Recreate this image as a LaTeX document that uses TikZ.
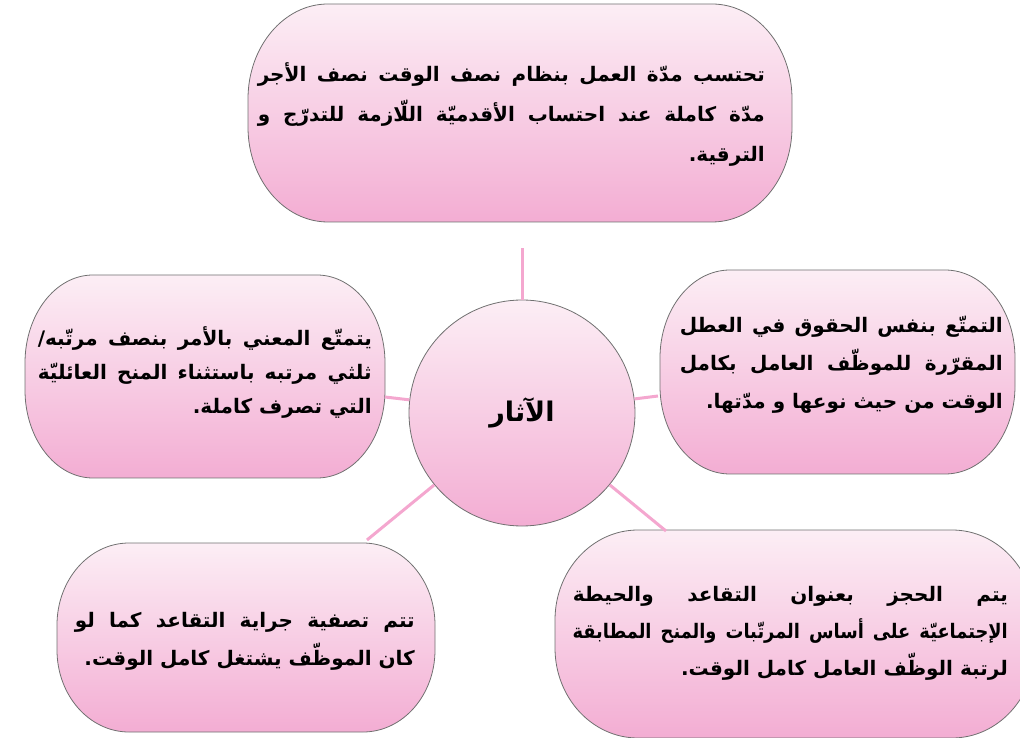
\documentclass[tikz,border=0pt]{standalone}
\usepackage{fontspec}
\usepackage{graphicx}
\usepackage{tikz}
\newfontfamily\arabicfont[Script=Arabic]{DejaVu Sans}
\TeXXeTstate=1

\definecolor{pinktop}{HTML}{FCEEF5}
\definecolor{pinkbottom}{HTML}{F3ADD3}
\definecolor{spokepink}{HTML}{F4A7CF}
\definecolor{rimgray}{HTML}{707070}

\tikzset{
  bubble/.style={draw=rimgray, line width=0.8pt, top color=pinktop, bottom color=pinkbottom},
  spoke/.style={draw=spokepink, line width=3pt},
  arabtxt/.style={font=\arabicfont\bfseries\fontsize{20}{37}\selectfont, align=right, inner sep=0pt, anchor=east},
}

% justified line
\newcommand\jline[2]{\hbox to #1{\spaceskip=0.3em plus 1fill\relax #2}}

% rounded box: x1 y1 x2 y2 rx ry
\newcommand\bubblebox[6]{%
  \draw[bubble] (#1+#5,#4) -- (#3-#5,#4)
    arc[start angle=90, end angle=0, x radius=#5pt, y radius=#6pt]
    -- (#3,#2+#6)
    arc[start angle=0, end angle=-90, x radius=#5pt, y radius=#6pt]
    -- (#1+#5,#2)
    arc[start angle=270, end angle=180, x radius=#5pt, y radius=#6pt]
    -- (#1,#4-#6)
    arc[start angle=180, end angle=90, x radius=#5pt, y radius=#6pt]
    -- cycle;}

\begin{document}
\begin{tikzpicture}[x=1pt, y=1pt]
    \useasboundingbox (0,0) rectangle (1020,737);

    % Boxes
    \bubblebox{248}{515}{792}{733}{80}{95}
    \bubblebox{25}{259}{385}{462}{68}{88}
    \bubblebox{660}{263}{1015}{467}{70}{88}
    \bubblebox{57}{5}{435}{194}{72}{82}
    \bubblebox{555}{-1}{1035}{207}{83}{90}

    % Centre
    \node[bubble, circle, minimum size=226pt, inner sep=0pt,
          font=\arabicfont\bfseries\fontsize{27}{30}\selectfont] (aathar) at (522,324) {\beginR الآثار\endR};

    % Spokes
    \coordinate (topend) at (522,489);
    \coordinate (leftend) at (385,340);
    \coordinate (rightend) at (658,341);
    \coordinate (lowleftend) at (367,197);
    \coordinate (lowrightend) at (666,206);
    \draw[spoke] (aathar) -- (topend);
    \draw[spoke] (aathar) -- (leftend);
    \draw[spoke] (aathar) -- (rightend);
    \draw[spoke] (aathar) -- (lowleftend);
    \draw[spoke] (aathar) -- (lowrightend);

    % Texts
    \node[arabtxt, font=\arabicfont\bfseries\fontsize{20}{40}\selectfont] (hisab) at (765,622) {%
        \jline{507pt}{\beginR تحتسب مدّة العمل بنظام نصف الوقت نصف الأجر\endR}\\
        \jline{507pt}{\beginR مدّة كاملة عند احتساب الأقدميّة اللّازمة للتدرّج و\endR}\\
        \beginR الترقية.\endR};
    \node[arabtxt, font=\arabicfont\bfseries\fontsize{20}{34}\selectfont] (ratib) at (372,365) {%
        \jline{334pt}{\beginR يتمتّع المعني بالأمر بنصف مرتّبه/\endR}\\
        \jline{334pt}{\beginR ثلثي مرتبه باستثناء المنح العائليّة\endR}\\
        \beginR التي تصرف كاملة.\endR};
    \node[arabtxt, font=\arabicfont\bfseries\fontsize{20}{38}\selectfont] (utal) at (1003,372) {%
        \jline{323pt}{\beginR التمتّع بنفس الحقوق في العطل\endR}\\
        \jline{323pt}{\beginR المقرّرة للموظّف العامل بكامل\endR}\\
        \beginR الوقت من حيث نوعها و مدّتها.\endR};
    \node[arabtxt, font=\arabicfont\bfseries\fontsize{20}{38}\selectfont] (jiraya) at (415,96) {%
        \jline{340pt}{\beginR تتم تصفية جراية التقاعد كما لو\endR}\\
        \beginR كان الموظّف يشتغل كامل الوقت.\endR};
    \node[arabtxt] (hajz) at (1008,104) {%
        \jline{435pt}{\beginR يتم الحجز بعنوان التقاعد والحيطة\endR}\\
        \scalebox{0.89}[1]{\jline{489pt}{\beginR الإجتماعيّة على أساس المرتّبات والمنح المطابقة\endR}}\\
        \beginR لرتبة الوظّف العامل كامل الوقت.\endR};
\end{tikzpicture}
\end{document}
